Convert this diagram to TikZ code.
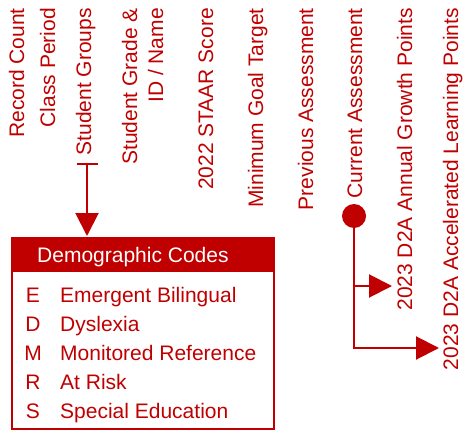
\documentclass[tikz,border=0pt]{standalone}
\usepackage{fontspec}
\setmainfont{Liberation Sans}
\usetikzlibrary{positioning,arrows.meta}
\definecolor{dred}{RGB}{192,0,0}

\begin{document}
\begin{tikzpicture}[x=1pt,y=-1pt,
    every node/.style={text=dred,inner sep=0pt,font=\fontsize{21}{25}\selectfont},
    head/.style={rotate=90,anchor=base east},
    code/.style={anchor=base},
    entry/.style={anchor=base west},
    link/.style={draw=dred,line width=2pt},
    tip/.style={-{Triangle[width=23pt,length=23pt]}}]

    \useasboundingbox (0,0) rectangle (465,433);

    % column heads
    \node[head] (count)   at (24,8)  {Record Count};
    \node[head] (period)  at (55,8)  {Class Period};
    \node[head] (groups)  at (91,8)  {Student Groups};
    \node[head] (grade)   at (137,8) {Student Grade \&};
    \node[head] (idname)  at (163,8) {ID / Name};
    \node[head] (staar)   at (213,8) {2022 STAAR Score};
    \node[head] (goal)    at (263,8) {Minimum Goal Target};
    \node[head] (prev)    at (313,8) {Previous Assessment};
    \node[head] (current) at (362,8) {Current Assessment};
    \node[head] (growth)  at (412,8) {2023 D2A Annual Growth Points};
    \node[head] (accel)   at (458,8) {2023 D2A Accelerated Learning Points};

    % demographic codes
    \node[draw=dred,line width=2pt,minimum width=262pt,minimum height=191pt] (legend) at (143,333.5) {};
    \fill[dred] (legend.north west) rectangle ([yshift=-35pt]legend.north east);
    \node[entry,text=white] (title) at (37,262) {Demographic Codes};

    \node[code] (e) at (33,302) {E};
    \node[code] (d) at (33,331) {D};
    \node[code] (m) at (33,360) {M};
    \node[code] (r) at (33,389) {R};
    \node[code] (s) at (33,418) {S};
    \node[entry] (te) at (60,302) {Emergent Bilingual};
    \node[entry] (td) at (60,331) {Dyslexia};
    \node[entry] (tm) at (60,360) {Monitored Reference};
    \node[entry] (tr) at (60,389) {At Risk};
    \node[entry] (ts) at (60,418) {Special Education};

    \coordinate (sgtop) at (87,163);
    \coordinate (sgtip) at (87,236);
    \draw[link,{Bar[width=21pt]}-{Triangle[width=23pt,length=23pt]}] (sgtop) -- (sgtip);

    % current assessment
    \node[circle,fill=dred,minimum size=24pt] (dot) at (354,216) {};
    \coordinate (fork)   at (354,286);
    \coordinate (corner) at (354,348);
    \coordinate (growthtip) at (392,286);
    \coordinate (acceltip)  at (439,348);
    \draw[link,tip] (dot) -- (corner) -- (acceltip);
    \draw[link,tip] (fork) -- (growthtip);

\end{tikzpicture}
\end{document}
